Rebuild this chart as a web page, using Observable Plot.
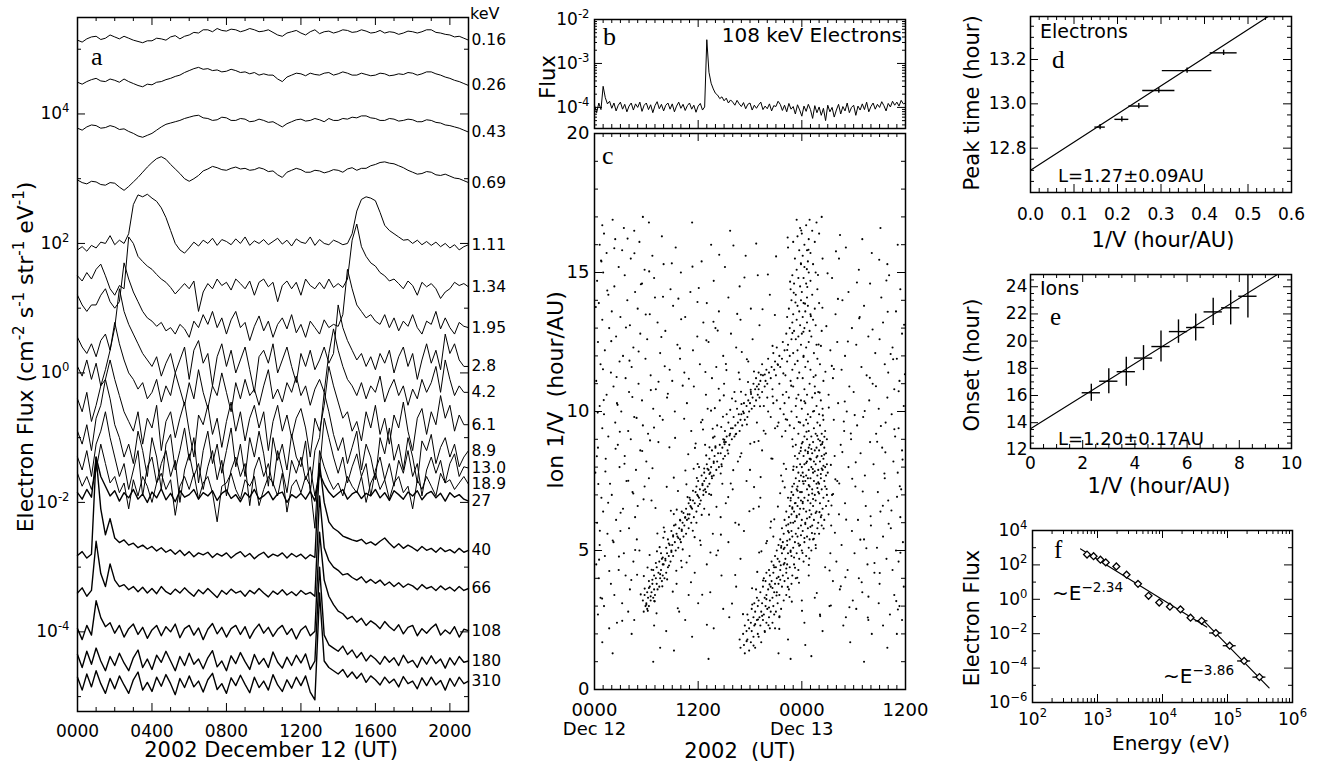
<!DOCTYPE html>
<html><head><meta charset="utf-8">
<script src="https://cdn.jsdelivr.net/npm/d3@7"></script>
<script src="https://cdn.jsdelivr.net/npm/@observablehq/plot@0.6"></script>
<style>
html,body{margin:0;padding:0;background:#fff;}
#fig{position:relative;width:1322px;height:769px;overflow:hidden;background:#fff;}
#fig > svg{position:absolute;max-width:none;}
</style></head><body><div id="fig"></div>
<script>
// ================= DATA =================
const hoursQuarter = [0,0.25,0.5,0.75,1,1.25,1.5,1.75,2,2.25,2.5,2.75,3,3.25,3.5,3.75,4,4.25,4.5,4.75,5,5.25,5.5,5.75,6,6.25,6.5,6.75,7,7.25,7.5,7.75,8,8.25,8.5,8.75,9,9.25,9.5,9.75,10,10.25,10.5,10.75,11,11.25,11.5,11.75,12,12.25,12.5,12.75,13,13.25,13.5,13.75,14,14.25,14.5,14.75,15,15.25,15.5,15.75,16,16.25,16.5,16.75,17,17.25,17.5,17.75,18,18.25,18.5,18.75,19,19.25,19.5,19.75,20,20.25,20.5,20.75,21,21.25,21.5,21.75,22,22.25,22.5,22.75,23,23.25,23.5,23.75,24,24.25,24.5,24.75,25,25.25,25.5,25.75,26,26.25,26.5,26.75,27,27.25,27.5,27.75,28,28.25,28.5,28.75,29,29.25,29.5,29.75,30,30.25,30.5,30.75,31,31.25,31.5,31.75,32,32.25,32.5,32.75,33,33.25,33.5,33.75,34,34.25,34.5,34.75,35,35.25,35.5,35.75,36];

const channelLabels = ["0.16","0.26","0.43","0.69","1.11","1.34","1.95","2.8","4.2","6.1","8.9","13.0","18.9","27","40","66","108","180","310"];

// log10 electron flux (cm^-2 s^-1 str^-1 eV^-1), quarter-hour samples from 0000 UT
const logFlux016 = [5.14,5.11,5.16,5.19,5.2,5.15,5.17,5.22,5.19,5.16, 5.2,5.17,5.14,5.12,5.1,5.13,5.13,5.17,5.16,5.14, 5.19,5.21,5.16,5.2,5.22,5.26,5.25,5.3,5.3,5.27, 5.32,5.29,5.28,5.31,5.3,5.27,5.29,5.32,5.3,5.27, 5.28,5.3,5.26,5.22,5.2,5.25,5.27,5.29,5.25,5.22, 5.27,5.3,5.24,5.27,5.28,5.25,5.27,5.3,5.29,5.26, 5.27,5.3,5.28,5.25,5.26,5.29,5.25,5.27,5.26,5.23, 5.25,5.28,5.27,5.25,5.27,5.3,5.3,5.26,5.25,5.23, 5.22,5.19,5.2,5.17,5.14];
const logFlux026 = [4.49,4.46,4.5,4.53,4.55,4.51,4.5,4.54,4.52,4.49, 4.54,4.5,4.47,4.44,4.42,4.46,4.45,4.49,4.5,4.53, 4.55,4.58,4.6,4.64,4.67,4.7,4.72,4.69,4.7,4.67, 4.68,4.65,4.66,4.69,4.67,4.64,4.65,4.62,4.64,4.6, 4.62,4.6,4.6,4.54,4.5,4.57,4.6,4.63,4.62,4.59, 4.63,4.61,4.6,4.63,4.64,4.6,4.62,4.65,4.63,4.6, 4.6,4.63,4.61,4.59,4.6,4.63,4.62,4.59,4.6,4.62, 4.61,4.64,4.63,4.6,4.62,4.65,4.65,4.62,4.6,4.57, 4.55,4.52,4.5,4.47,4.44];
const logFlux043 = [3.78,3.75,3.8,3.83,3.82,3.78,3.79,3.82,3.8,3.76, 3.77,3.73,3.7,3.66,3.64,3.67,3.7,3.75,3.8,3.84, 3.86,3.88,3.9,3.93,3.95,3.97,3.98,3.94,3.93,3.9, 3.91,3.95,3.94,3.9,3.9,3.93,3.92,3.88,3.89,3.92, 3.9,3.87,3.88,3.84,3.8,3.85,3.88,3.91,3.92,3.89, 3.9,3.93,3.91,3.88,3.93,3.9,3.9,3.93,3.92,3.95, 3.94,3.97,3.97,3.94,3.93,3.9,3.9,3.93,3.92,3.89, 3.9,3.92,3.91,3.88,3.88,3.91,3.9,3.87,3.86,3.83, 3.82,3.8,3.78,3.75,3.72];
const logFlux069 = [2.98,2.94,2.92,2.96,2.95,2.91,2.9,2.94,2.93,2.87, 2.82,2.88,2.95,3.02,3.1,3.18,3.25,3.31,3.34,3.3, 3.22,3.15,3.08,3.0,2.96,3.0,3.05,3.12,3.15,3.19, 3.17,3.14,3.13,3.16,3.18,3.15,3.16,3.13,3.14,3.17, 3.15,3.11,3.12,3.06,3.02,3.1,3.13,3.16,3.14,3.1, 3.1,3.13,3.12,3.09,3.11,3.14,3.13,3.1,3.15,3.17, 3.13,3.16,3.16,3.2,3.22,3.25,3.26,3.24,3.23,3.2, 3.17,3.13,3.1,3.07,3.08,3.11,3.1,3.06,3.05,3.07, 3.04,3.01,3.0,2.97,2.94];
const logFlux111 = [1.9,1.95,1.88,1.97, 1.93,2.02,2.0,2.12, 1.98,2.05,2.0,2.15, 2.6,2.75,2.72,2.76, 2.7,2.65,2.55,2.4, 2.2,2.0,1.9,1.85, 1.93,2.02,1.96,2.05, 2.0,2.08,1.97,2.06, 2.03,1.98,2.07,2.0, 2.1,1.97,2.04,2.0, 2.06,1.98,2.03,2.08, 1.99,2.05,1.96,2.07, 2.02,2.0,2.1,1.97, 2.06,2.0,1.98,2.05, 2.02,1.98,2.0,2.15, 2.5,2.68,2.72,2.7, 2.66,2.48,2.28,2.2, 2.15,2.1,2.05,2.06, 2.0,2.05,1.98,2.03, 1.97,2.02,1.95,2.0, 1.93,1.98,1.9,1.95, 1.98];
const logFlux134 = [1.5,1.42,1.55,1.45, 1.6,1.68,1.5,1.3, 1.2,1.35,1.3,2.1, 2.0,1.8,1.72,1.65, 1.6,1.52,1.45,1.4, 1.32,1.22,1.3,1.38, 1.3,1.42,0.95,1.25, 1.38,1.3,1.45,1.35, 1.4,1.28,1.45,1.38, 1.3,1.42,1.2,1.4, 1.45,1.33,1.4,1.1, 1.35,1.42,1.3,1.4, 1.2,1.45,1.35,1.3, 1.4,1.3,1.45,1.32, 1.38,1.32,1.45,2.05, 2.3,1.95,1.8,1.7, 1.65,1.55,1.5,1.42, 1.45,1.38,1.3,1.42, 1.35,1.2,1.4,1.33, 1.38,1.3,1.15,1.25, 1.3,1.4,1.35,1.38, 1.33];
const logFlux195 = [1.2,1.05,0.95,1.05, 1.05,1.2,1.3,1.1, 1.0,1.1,1.7,1.45, 1.25,1.1,0.95,0.85, 0.8,0.72,0.78,0.65, 0.7,0.6,0.75,0.68, 0.55,0.8,0.7,0.9, 0.75,0.95,0.7,0.85, 0.6,0.82,0.95,0.7, 0.78,0.5,0.72,0.88, 0.65,0.8,0.55,0.75, 0.85,0.68,0.9,0.62, 0.75,0.55,0.8,0.7, 0.6,0.82,0.7,0.75, 0.72,0.9,1.6,1.3, 1.05,0.95,0.85,0.9, 0.8,0.75,0.9,0.7, 0.85,0.65,0.8,0.72, 0.9,0.7,0.6,0.8, 0.75,0.95,0.68,0.85, 0.7,0.6,0.78,0.72, 0.7];
const logFlux28 = [0.55,0.4,0.3,0.45, 0.25,0.5,0.6,0.35, 0.7,1.3,0.95,0.75, 0.6,0.45,0.3,0.2, 0.1,0.25,-0.05,0.15, 0.3,0.0,0.2,0.4, -0.1,0.35,0.5,0.15, 0.3,-0.2,0.25,0.45, 0.1,0.35,0.0,0.2, 0.4,0.05,-0.3,0.25, 0.35,0.15,0.45,0.0, 0.2,0.4,0.1,-0.15, 0.3,0.1,0.35,0.05, 0.2,0.4,0.15,0.3, 1.05,0.7,0.5,0.35, 0.2,0.3,0.1,0.25, 0.05,0.3,0.15,0.35, 0.0,0.25,0.4,0.1, 0.3,-0.1,0.2,0.45, 0.15,0.35,0.05,0.6, 0.3,0.45,0.2,0.1, 0.1];
const logFlux42 = [0.1,-0.05,0.2,-0.1, 0.15,-0.2,0.05,0.35, 0.78,0.45,0.2,0.0, -0.1,-0.25,-0.15,-0.4, -0.3,-0.1,-0.45,-0.2, -0.35,0.0,-0.25,-0.5, -0.15,-0.4,0.05,-0.3, -0.55,-0.2,-0.35,0.0, -0.3,-0.6,-0.15,-0.4, -0.1,-0.35,-0.25,-0.5, -0.2,0.05,-0.4,-0.25, -0.45,-0.15,-0.3,-0.05, -0.35,-0.2,-0.5,-0.25, -0.1,-0.3,0.3,0.68, 0.35,0.1,-0.1,-0.2, -0.35,-0.15,-0.4,-0.2, -0.3,-0.05,-0.45,-0.25, -0.1,-0.35,-0.2,-0.5, -0.25,-0.4,-0.1,-0.3, -0.15,0.1,-0.3,0.2, -0.1,-0.35,-0.2,-0.3, -0.3];
const logFlux61 = [-0.4,-0.6,-0.3,-0.75, -0.5,-0.2,-0.1,0.2, -0.1,-0.35,-0.6,-0.75, -0.9,-0.6,-1.1,-0.7, -0.85,-0.5,-1.2,-0.75, -0.6,-1.0,-0.7,-0.45, -0.9,-1.3,-0.65,-0.8, -0.5,-0.95,-0.7,-1.15, -0.75,-0.45,-0.9,-0.6, -1.05,-0.7,-0.5,-0.85, -0.6,-1.2,-0.75,-0.5, -0.9,-0.65,-1.0,-0.7, -0.55,-0.85,-1.3,-0.7, -0.9,-0.5,0.1,-0.2, -0.45,-0.7,-0.6,-0.9, -0.75,-1.05,-0.6,-0.85, -0.5,-0.95,-0.7,-1.1, -0.65,-0.85,-0.45,-0.9, -1.2,-0.7,-0.55,-0.95, -0.6,-0.8,-0.35,-0.7, -0.5,-0.9,-0.65,-0.8, -0.8];
const logFlux89 = [-0.9,-1.1,-0.8,-1.2, -0.7,-0.5,-0.1,-0.4, -0.8,-1.0,-1.3,-1.1, -1.4,-0.9,-1.2,-1.6, -1.0,-1.3,-1.8,-1.1, -0.95,-1.5,-1.2,-0.85, -1.35,-1.0,-1.7,-1.2, -0.9,-1.4,-1.1,-1.55, -1.2,-0.85,-1.45,-1.1, -1.6,-1.0,-1.3,-0.9, -1.25,-1.75,-1.0,-1.35, -1.1,-1.5,-0.95,-1.3, -1.45,-1.05,-1.85,-1.2, -1.0,-0.3,-0.6,-0.95, -1.2,-1.0,-1.4,-1.15, -0.9,-1.5,-1.1,-1.3, -1.65,-1.0,-1.25,-0.85, -1.35,-1.1,-1.5,-1.0, -1.3,-1.7,-1.05,-1.2, -0.95,-1.4,-1.15,-1.0, -1.3,-1.1,-1.45,-1.3, -1.2];
const logFlux130 = [-1.3,-1.5,-1.2,-1.6, -1.1,-0.9,-0.6,-1.0, -1.3,-1.6,-1.4,-1.8, -1.5,-1.2,-1.9,-1.45, -1.3,-1.7,-1.4,-1.2, -1.6,-1.35,-2.0,-1.5, -1.25,-1.6,-1.4,-1.8, -1.45,-1.2,-1.65,-1.35, -1.9,-1.5,-1.3,-1.6, -1.4,-2.05,-1.5,-1.3, -1.6,-1.4,-1.75,-1.2, -1.5,-1.85,-1.35,-1.55, -1.3,-1.65,-1.45,-1.9, -1.5,-0.7,-1.0,-1.3, -1.55,-1.3,-1.7,-1.45, -1.25,-1.6,-1.4,-1.9, -1.5,-1.3,-1.65,-1.4, -1.75,-1.35,-1.55,-1.2, -1.6,-1.4,-1.9,-1.5, -1.3,-1.55,-1.35,-1.7, -1.4,-1.25,-1.6,-1.45, -1.47];
const logFlux189 = [-1.55,-1.75,-1.6,-1.8, -1.5,-1.1,-1.4,-1.7, -1.6,-1.85,-1.7,-2.1, -1.65,-1.9,-1.6,-1.75, -2.0,-1.7,-1.55,-1.8, -1.65,-2.2,-1.75,-1.6, -1.8,-1.55,-1.95,-1.7, -1.6,-1.85,-2.3,-1.75, -1.7,-1.55,-1.8,-1.95, -1.65,-1.75,-1.6,-2.05, -1.8,-1.6,-1.7,-1.9, -1.55,-2.15,-1.75,-1.65, -1.85,-1.6,-1.75,-2.4, -1.2,-1.45,-1.65,-1.8, -1.7,-1.9,-1.6,-1.75, -1.85,-1.6,-2.0,-1.7, -1.55,-1.8,-1.65,-1.95, -1.7,-1.6,-1.85,-1.75, -2.1,-1.65,-1.8,-1.6, -1.75,-1.9,-1.55,-1.7, -1.65,-1.8,-1.7,-1.6, -1.72];
const logFlux27 = [-1.85,-1.95,-1.8,-1.92, -1.3,-1.6,-1.75,-1.9, -1.82,-1.98,-1.85,-1.93, -1.8,-1.95,-1.87,-2.0, -1.84,-1.93,-1.79,-1.96, -1.86,-1.99,-1.82,-1.92, -1.88,-1.8,-1.95,-1.85, -1.9,-1.82,-1.97,-1.86, -1.81,-1.94,-1.88,-1.99, -1.85,-1.92,-1.8,-1.95, -1.9,-1.83,-1.96,-1.87, -1.84,-2.0,-1.88,-1.93, -1.86,-1.95,-1.83,-1.98, -1.55,-1.72,-1.84,-1.92, -1.86,-1.8,-1.95,-1.87, -1.83,-1.94,-1.86,-1.9, -1.8,-1.93,-1.85,-1.97, -1.82,-1.88,-1.95,-1.84, -1.9,-1.82,-1.96,-1.87, -1.83,-1.93,-1.86,-1.98, -1.85,-1.92,-1.88,-1.95, -1.98];
const logFlux40 = [-2.82,-2.76,-2.86,-2.8, -1.3,-2.1,-2.5,-2.25, -2.55,-2.62,-2.58,-2.66, -2.63,-2.7,-2.66,-2.72, -2.68,-2.75,-2.7,-2.77, -2.73,-2.8,-2.74,-2.82, -2.76,-2.84,-2.78,-2.81, -2.77,-2.85,-2.79,-2.83, -2.78,-2.86,-2.8,-2.76, -2.84,-2.79,-2.87,-2.81, -2.77,-2.85,-2.8,-2.83, -2.78,-2.86,-2.79,-2.84, -2.8,-2.87,-2.81,-2.85, -1.4,-2.0,-2.3,-2.4, -2.45,-2.52,-2.55,-2.58, -2.6,-2.57,-2.64,-2.61, -2.66,-2.6,-2.55,-2.63, -2.7,-2.64,-2.71,-2.66, -2.7,-2.75,-2.68,-2.74, -2.71,-2.77,-2.7,-2.76, -2.73,-2.78,-2.71,-2.77, -2.74];
const logFlux66 = [-3.4,-3.32,-3.45,-3.36, -2.6,-3.1,-3.3,-2.95, -3.2,-3.3,-3.27,-3.35, -3.3,-3.38,-3.31,-3.4, -3.33,-3.41,-3.3,-3.38, -3.42,-3.34,-3.4,-3.32, -3.39,-3.45,-3.35,-3.41, -3.33,-3.4,-3.47,-3.36, -3.42,-3.34,-3.4,-3.37, -3.45,-3.36,-3.41,-3.33, -3.4,-3.46,-3.37,-3.42, -3.35,-3.43,-3.38,-3.44, -3.36,-3.42,-3.39,-3.45, -1.9,-2.7,-2.9,-3.0, -3.05,-3.12,-3.1,-3.16, -3.2,-3.15,-3.24,-3.19, -3.25,-3.2,-3.28,-3.23, -3.3,-3.24,-3.31,-3.26, -3.29,-3.35,-3.27,-3.33, -3.3,-3.36,-3.29,-3.35, -3.31,-3.37,-3.3,-3.36, -3.33];
// 108 keV: 0000 Dec 12 to 1200 Dec 13 (panels a and b)
const logFlux108 = [-3.95,-4.12,-3.9,-4.05, -3.52,-3.78,-3.92,-3.86, -4.02,-3.9,-4.08,-3.95, -3.88,-4.04,-3.93,-4.1, -3.97,-3.9,-4.06,-3.92, -4.0,-3.88,-4.09,-3.95, -3.9,-4.05,-3.94,-4.12, -3.96,-3.87,-4.03,-3.93, -4.08,-3.95,-3.9,-4.04, -3.92,-4.1,-3.97,-3.88, -4.02,-3.93,-4.07,-3.96, -3.9,-4.04,-3.95,-4.11, -3.97,-3.91,-4.06,-3.99, -2.46,-3.2,-3.45,-3.58, -3.68,-3.72,-3.8,-3.76, -3.85,-3.79,-3.9,-3.83, -3.88,-3.95,-3.84,-3.92, -3.98,-3.89,-4.03,-3.93, -3.9,-4.06,-3.95,-4.02, -3.94,-3.88,-4.05,-3.97, -4.03,-3.92,-4.08,-3.96, -3.98,-3.86,-3.93,-4.07, -3.95,-4.1,-3.91,-4.04, -3.98,-4.15,-3.94,-4.06, -4.2,-3.97,-4.09,-3.93, -4.05,-4.25,-3.96,-4.12, -3.99,-4.18,-4.02,-4.3, -3.95,-4.1,-4.0,-4.22, -4.06,-3.93,-4.15,-3.98, -4.08,-3.9,-4.12,-4.0, -3.95,-4.18,-3.97,-4.06, -3.92,-4.05,-3.88,-4.1, -3.98,-3.9,-4.04,-3.93, -4.0,-3.87,-3.96,-4.08, -3.91,-3.99,-3.86,-3.95, -3.88,-3.97,-3.84,-3.92, -3.9];
const logFlux180 = [-4.35,-4.55,-4.3,-4.5, -4.25,-4.45,-4.6,-4.38, -4.52,-4.33,-4.48,-4.6, -4.4,-4.28,-4.55,-4.42, -4.58,-4.36,-4.47,-4.3, -4.45,-4.6,-4.38,-4.52, -4.33,-4.5,-4.42,-4.57, -4.4,-4.29,-4.54,-4.45, -4.6,-4.37,-4.49,-4.32, -4.46,-4.58,-4.35,-4.5, -4.41,-4.55,-4.31,-4.47, -4.56,-4.39,-4.52,-4.36, -4.48,-4.34,-4.58,-4.45, -3.0,-4.05,-4.2,-4.25, -4.3,-4.22,-4.35,-4.28, -4.4,-4.32,-4.45,-4.36, -4.42,-4.5,-4.38,-4.47, -4.4,-4.52,-4.36,-4.48, -4.44,-4.55,-4.39,-4.5, -4.37,-4.49,-4.42,-4.56, -4.4,-4.51,-4.38,-4.47, -4.45];
const logFlux310 = [-4.7,-4.9,-4.65,-4.85, -4.6,-4.8,-4.95,-4.72, -4.88,-4.68,-4.82,-4.95, -4.74,-4.62,-4.9,-4.78, -4.92,-4.7,-4.84,-4.66, -4.8,-4.97,-4.72,-4.86, -4.68,-4.85,-4.76,-4.93, -4.74,-4.64,-4.89,-4.8, -4.95,-4.71,-4.83,-4.67, -4.81,-4.94,-4.7,-4.86, -4.76,-4.9,-4.66,-4.82, -4.92,-4.74,-4.87,-4.7, -4.83,-4.68,-4.93,-5.05, -3.4,-4.45,-4.55,-4.6, -4.65,-4.58,-4.7,-4.62, -4.72,-4.64,-4.78,-4.68, -4.74,-4.82,-4.7,-4.79, -4.73,-4.85,-4.69,-4.8, -4.76,-4.88,-4.71,-4.83, -4.7,-4.82,-4.75,-4.9, -4.72,-4.84,-4.7,-4.8, -4.76];

// Panel c: ion 1/V (hour/AU) rows, each listing the times (hours since 0000 Dec 12) of ions at that 1/V
const ionRows = [
[1.0,[6.8,31.2]],[1.1,[13.2,22.7]],[1.2,[25.1]],[1.3,[2.1,17.4,21.3]],[1.4,[9.2,17.9]],
[1.5,[7.6,16.9,18.6,33.9]],[1.6,[17.3,24.4]],[1.7,[0.9,18.1,19.3,29.6]],[1.8,[16.8,17.7,22.4]],[1.9,[11.3,18.4,19.0]],
[2.0,[4.3,17.2,18.9,32.1,35.0]],[2.1,[8.3,17.6,18.2,19.7,26.4]],[2.2,[1.7,17.9,20.3,20.9,13.8]],[2.3,[6.9,18.5,17.4,19.2,28.8,33.4]],[2.4,[24.3,18.1,19.9,20.6,2.6]],
[2.5,[10.5,17.8,18.8,19.5,31.7,35.6,4.6]],[2.6,[15.6,19.1,20.2,18.4,21.4,29.1]],[2.7,[0.4,17.7,19.6,20.8,26.1,34.2]],[2.8,[3.9,5.7,18.6,19.3,20.4,21.0,9.8]],[2.9,[6.1,14.9,18.2,20.0,21.6,30.3]],
[3.0,[5.9,6.3,18.9,19.8,20.7,1.1,27.2,35.3]],[3.1,[3.2,6.0,19.4,18.5,21.2,12.0,32.9]],[3.2,[5.6,6.5,19.0,20.3,21.9,24.0,29.9]],[3.3,[0.7,6.2,6.8,18.8,20.6,19.7,25.5]],[3.4,[2.3,5.8,7.0,19.9,21.4,22.2,10.9,34.7]],
[3.5,[6.6,6.1,19.2,20.8,21.1,13.4,31.0]],[3.6,[4.1,6.9,7.3,18.7,20.1,22.5,28.4]],[3.7,[6.4,7.5,19.5,21.7,20.4,16.4,35.8]],[3.8,[1.9,6.7,7.2,20.9,21.3,22.8,9.5,33.0]],[3.9,[7.8,6.3,19.8,22.0,20.5,27.6]],
[4.0,[0.5,7.1,7.6,8.1,19.6,21.1,22.4,23.3,30.6]],[4.1,[3.6,6.9,7.9,20.3,21.8,22.9,14.7,24.8]],[4.2,[7.4,8.3,20.7,19.9,22.2,11.6,32.4]],[4.3,[2.8,6.8,7.7,21.5,20.2,23.6,29.3,34.5]],[4.4,[7.2,8.5,21.0,22.6,20.8,10.1,26.7]],
[4.5,[0.2,7.9,8.0,21.9,23.1,22.3,13.0,31.6]],[4.6,[4.5,7.5,8.8,20.5,21.4,24.2,28.0,35.2]],[4.7,[8.2,7.8,22.1,23.7,21.2,16.9,33.8]],[4.8,[1.2,8.6,9.1,20.9,22.8,24.5,11.0]],[4.9,[3.4,7.7,8.4,21.7,23.4,22.4,27.3,30.1]],
[5.0,[5.2,8.9,9.4,21.1,22.7,24.0,25.1,14.3,34.9]],[5.1,[8.3,9.7,21.6,23.0,24.8,22.0,32.7]],[5.2,[0.6,8.7,9.0,22.3,23.8,21.3,25.6,12.3,28.6]],[5.3,[2.2,9.3,10.0,21.8,24.3,23.2,15.5,35.7]],[5.4,[4.9,8.5,9.9,22.6,24.9,21.5,25.3,31.2]],
[5.5,[9.1,10.3,22.9,23.5,24.6,20.7,9.6,33.4]],[5.6,[1.5,9.5,10.6,21.9,25.5,23.3,26.0,13.7]],[5.7,[3.0,8.9,10.1,22.4,24.1,22.8,17.3,29.8]],[5.8,[9.8,10.9,23.6,24.7,21.7,25.8,4.0,34.3]],[5.9,[9.2,10.4,22.2,23.9,25.2,26.3,27.4,32.0]],
[6.0,[0.3,10.2,11.2,22.7,24.4,23.0,25.9,11.8,16.3]],[6.1,[2.5,9.9,10.7,22.0,24.0,25.4,26.6,30.5]],[6.2,[4.7,10.5,11.5,23.4,24.9,22.5,26.2,14.6,35.4]],[6.3,[10.8,11.0,22.8,25.1,23.7,27.1,28.3]],[6.4,[1.0,10.1,11.8,23.1,24.5,25.7,22.2,33.1]],
[6.5,[3.3,10.6,11.3,22.9,23.8,26.4,24.2,12.7,18.4]],[6.6,[5.0,11.1,12.0,23.5,25.3,22.6,26.8,31.4]],[6.7,[10.9,11.6,24.1,25.0,23.2,26.1,15.2,29.0]],[6.8,[6.6,11.4,12.3,22.7,24.7,25.6,23.9,34.0]],[6.9,[0.8,11.0,12.1,23.6,24.3,26.5,22.4,19.2]],
[7.0,[2.0,11.9,12.6,23.0,25.5,24.8,26.9,13.5,27.5]],[7.1,[4.4,11.7,12.9,23.8,24.0,25.9,22.8,32.8]],[7.2,[12.2,12.8,23.4,25.2,24.6,26.3,16.0,35.5]],[7.3,[5.8,11.8,13.1,22.9,24.9,26.7,23.5,30.2]],[7.4,[1.8,12.5,13.3,24.2,25.7,23.1,26.0,14.8]],
[7.5,[3.7,12.0,12.7,23.7,24.4,25.4,26.6,17.6,28.1]],[7.6,[6.3,12.9,13.6,23.3,25.0,26.2,24.7,33.6]],[7.7,[12.4,13.8,24.5,25.8,23.9,26.8,21.6,31.3]],[7.8,[0.1,12.7,13.4,23.6,25.3,24.1,27.0,35.1]],[7.9,[4.8,13.2,14.1,24.8,25.9,23.0,26.4,18.0]],
[8.0,[2.9,13.5,14.4,24.0,25.1,26.7,23.4,12.1,29.4]],[8.1,[13.0,14.7,24.3,25.6,23.8,26.9,32.3]],[8.2,[6.0,13.8,14.2,24.6,25.4,26.1,16.6,34.6]],[8.3,[1.3,13.3,14.9,23.5,25.0,26.5,24.9,20.6]],[8.4,[3.5,13.9,15.1,24.2,25.8,26.3,23.2,27.8]],
[8.5,[14.3,14.6,24.7,25.2,26.8,23.7,17.0,30.8]],[8.6,[5.3,13.6,15.4,24.4,26.0,25.5,19.4,35.6]],[8.7,[0.4,14.0,14.8,23.9,25.7,26.6,24.8,33.3]],[8.8,[2.7,14.5,15.6,24.9,26.2,23.3,12.8,28.5]],[8.9,[7.4,15.0,15.2,25.3,24.1,26.4,18.5,31.9]],
[9.0,[4.2,14.9,15.9,24.6,25.9,26.9,22.9,29.7]],[9.1,[1.6,15.3,16.2,25.1,24.3,21.7,13.9,34.8]],[9.2,[6.2,15.7,16.4,25.6,26.3,23.6,19.8,32.6]],[9.3,[3.9,15.1,16.8,24.8,26.7,22.1,11.2,28.9]],[9.4,[0.9,15.8,16.0,25.4,23.1,20.9,35.2]],
[9.5,[5.6,16.3,17.1,24.2,26.1,22.6,14.2,30.4]],[9.6,[2.4,15.5,16.6,25.8,23.8,21.3,18.8,33.7]],[9.7,[7.9,16.9,17.4,24.5,26.5,22.3,12.5,27.7]],[9.8,[4.6,16.1,17.7,25.0,23.4,20.4,31.1]],[9.9,[1.1,16.7,17.0,26.0,24.7,21.9,15.3,34.4]],
[10.0,[3.1,17.2,17.9,25.3,22.8,20.1,9.3,29.2]],[10.1,[6.8,16.5,18.2,24.0,26.4,21.5,13.1,32.9]],[10.2,[0.6,17.6,18.5,25.7,23.3,19.6,35.8]],[10.3,[2.6,17.3,18.0,24.4,22.0,20.7,10.7,28.2]],[10.4,[5.5,17.8,18.7,26.2,23.9,21.1,14.5,31.8]],
[10.5,[8.4,18.3,19.1,25.2,22.5,20.0,33.9]],[10.6,[1.4,17.5,18.9,24.6,23.6,21.8,12.9,27.1]],[10.7,[4.0,18.1,19.4,25.9,22.2,16.2,30.0]],[10.8,[7.1,18.6,19.0,24.3,20.6,34.7]],[10.9,[2.2,18.8,19.7,25.5,23.0,11.5,29.5]],
[11.0,[5.1,18.4,20.0,24.9,21.4,15.0,32.2]],[11.1,[0.2,19.2,19.8,26.5,22.7,9.0,35.3]],[11.2,[3.6,18.7,20.4,24.1,23.5,13.6,27.6]],[11.3,[6.5,19.5,21.0,25.6,22.1,31.5]],[11.4,[1.9,19.0,20.2,23.7,16.7,10.4,34.0]],
[11.5,[8.7,19.9,20.8,25.0,22.9,28.6]],[11.6,[4.3,20.5,21.5,24.4,14.1,30.9]],[11.7,[0.7,19.4,21.2,23.2,26.1,12.2,33.6]],[11.8,[2.9,20.9,22.3,24.7,17.8]],[11.9,[5.9,20.1,21.7,25.8,9.9,35.0]],
[12.0,[3.3,21.4,22.6,24.2,14.9,29.0]],[12.1,[7.6,20.7,23.0,25.4,32.5]],[12.2,[1.2,22.0,23.5,11.4,27.3]],[12.3,[4.5,21.1,24.5,16.4,34.5]],[12.4,[9.6,22.4,23.9,25.7,30.3]],
[12.5,[0.4,21.8,24.8,13.2,28.1]],[12.6,[6.1,22.8,23.3,18.3,33.0]],[12.7,[2.5,23.6,25.1,11.9,31.7]],[12.8,[5.3,22.2,24.0,15.8,35.6]],[12.9,[8.2,23.1,24.9,26.3]],
[13.0,[1.7,22.6,24.3,14.0,29.8]],[13.1,[4.1,23.8,25.6,19.1]],[13.2,[7.3,22.9,24.6,12.6,33.4]],[13.3,[0.9,23.4,25.3,16.9]],[13.4,[3.0,24.1,22.3,10.5,30.7]],
[13.5,[6.4,23.0,25.0,27.9]],[13.6,[2.0,24.4,23.7,14.4,34.9]],[13.7,[5.0,22.5,25.5,18.1]],[13.8,[9.1,23.5,24.7,31.2]],[13.9,[0.5,24.2,26.0,13.0]],
[14.0,[3.8,22.8,23.9,28.7]],[14.1,[7.0,24.6,15.5,33.2]],[14.2,[1.6,23.3,25.2,20.3]],[14.3,[4.7,24.0,11.1,29.4]],[14.4,[8.8,22.7,25.8,35.4]],
[14.5,[2.3,23.8,16.8]],[14.6,[5.5,24.5,23.1,31.9]],[14.7,[0.3,25.0,13.8]],[14.8,[6.9,23.6,24.2,27.5]],[14.9,[3.5,22.9,18.9,34.1]],
[15.0,[1.0,24.8,25.6,10.0]],[15.1,[5.8,23.4,30.6]],[15.2,[2.8,24.3,15.1]],[15.3,[8.0,23.9,25.3,33.9]],[15.4,[0.8,24.7,12.4]],
[15.5,[4.2,23.2,26.4,28.3]],[15.6,[6.7,24.1,17.5]],[15.7,[1.4,25.0,32.1]],[15.8,[3.2,23.7,24.6]],[15.9,[9.4,22.4,29.1]],
[16.0,[0.6,24.3,13.5,35.1]],[16.1,[5.2,25.5,23.0]],[16.2,[2.4,24.8,31.0]],[16.3,[7.8,23.5]],[16.4,[1.1,24.0,26.0]],
[16.5,[4.6,25.2,15.7]],[16.6,[3.4,23.8,33.1]],[16.7,[0.9,24.5]],[16.8,[6.3,25.7,11.3]],[16.9,[2.1,23.4,24.9]],[17.0,[5.6,26.3]]
];
// further ions [time, 1/V]: scattered background
const ionScatterExtra = [[3.47,8.12],[27.83,5.64],[14.26,12.91],[0.88,3.27],[33.15,9.48],[9.71,14.06],[21.39,2.18],[6.52,10.77],[30.64,13.35],[17.93,6.41],
[1.94,12.53],[24.58,15.12],[11.17,3.86],[35.02,6.93],[8.36,7.29],[19.45,13.68],[4.71,5.02],[28.97,10.36],[15.63,9.14],[2.29,15.87],
[32.41,4.55],[12.84,11.42],[23.06,14.27],[7.18,2.74],[26.35,8.83],[0.37,9.96],[18.72,16.04],[10.49,6.18],[34.28,12.07],[5.93,13.49],
[29.51,2.96],[13.58,7.67],[22.14,9.72],[3.02,6.36],[31.87,11.21],[16.29,4.12],[8.95,15.33],[25.73,3.47],[1.26,7.84],[20.61,12.36],
[35.66,8.27],[11.92,13.94],[27.08,6.78],[6.14,4.39],[14.97,10.58],[33.79,14.71],[4.05,11.83],[19.88,5.26],[9.33,9.05],[28.42,16.35],
[0.62,5.71],[24.19,11.96],[17.36,14.82],[31.05,7.12],[7.74,12.68],[13.01,2.33],[26.84,13.07],[2.67,10.24],[21.78,7.49],[34.93,3.18],
[10.85,8.46],[18.24,3.64],[5.37,14.58],[30.12,9.87],[15.48,6.92],[23.69,5.17],[1.71,4.26],[32.96,15.46],[8.02,5.83],[27.47,11.64],
[12.33,9.61],[20.07,14.93],[4.49,7.05],[35.21,10.73],[16.86,8.37],[29.04,4.04],[6.89,9.42],[22.91,12.82],[0.15,13.76],[14.44,15.64],
[33.38,6.61],[9.06,3.52],[25.27,7.93],[3.83,16.22],[19.16,10.19],[11.59,5.48],[28.18,14.05],[7.41,11.07],[31.64,2.59],[17.05,12.14],
[2.93,9.27],[24.86,4.71],[13.77,13.23],[34.57,11.88],[5.68,6.84],[21.02,15.58],[10.21,10.93],[26.61,9.09],[1.48,14.35],[29.83,7.58],
[15.92,3.09],[8.67,8.71],[32.19,12.95],[20.43,6.04],[4.26,3.94],[27.95,15.76],[12.62,7.16],[35.84,13.12],[6.33,15.04],[23.37,10.47],
[0.98,11.52],[18.99,8.94],[30.77,5.39],[14.11,4.83],[9.89,12.27],[25.94,12.41],[3.21,2.47],[33.56,7.77],[16.52,13.51],[22.57,3.33],
[7.06,6.53],[28.69,8.54],[11.34,15.21],[34.05,5.96],[2.44,8.66],[19.71,11.33],[13.26,6.29],[26.12,2.64],[5.11,12.16],[31.28,10.02],
[17.64,9.53],[8.49,10.64],[24.37,13.88],[0.44,7.39],[29.33,12.52],[15.21,11.71],[21.56,4.47],[4.87,9.77],[35.41,4.92],[10.66,4.57],
[27.21,4.28],[12.07,14.44],[32.72,8.91],[6.71,7.96],[18.47,7.28],[23.93,16.51],[1.07,10.41],[30.38,14.64],[14.73,8.03],[9.52,6.47],
[25.52,10.66],[3.64,13.02],[20.88,13.47],[34.71,9.36],[16.08,15.97],[7.93,14.13],[28.51,3.71],[11.71,8.85],[2.11,5.36],[31.96,6.23],
[19.32,4.97],[13.93,10.12],[26.98,14.97],[5.52,8.58],[22.36,16.26],[0.76,15.43],[29.67,9.21],[17.77,11.06],[8.21,4.64],[33.94,13.59],
[24.02,2.83],[12.95,12.56],[4.62,15.69],[35.93,11.34],[15.77,7.41],[21.24,11.67],[10.03,13.32],[27.62,7.03],[6.97,3.17],[30.93,3.86],
[2.83,4.78],[14.63,5.57],[31.47,5.08],[9.18,7.62],[26.27,6.27],[0.27,8.39],[19.59,9.31],[33.02,4.19],[12.47,3.41],[7.57,9.84],
[28.33,7.41],[16.71,5.93],[4.38,10.52],[35.34,7.31],[22.71,6.89],[10.92,11.18],[1.58,6.72],[30.24,8.17],[13.42,4.93],[24.71,9.57],
[5.81,3.63],[18.08,10.78],[32.58,10.91],[8.13,11.63],[27.36,3.02],[15.06,8.82],[3.91,7.51],[20.26,3.78],[34.37,6.44],[11.48,7.94],
[29.13,6.11],[6.43,8.96],[17.19,2.71],[0.53,4.67],[25.39,5.42],[13.68,9.38],[31.71,3.34],[9.64,2.92],[21.91,8.12],[2.56,11.24],
[28.86,9.64],[16.33,10.37],[7.28,5.61],[33.67,8.53],[12.18,6.67],[23.47,4.02],[4.93,4.13],[19.03,6.58],[35.12,2.88],[10.38,9.74]];
// further ions in the early (first) dispersion band
const ionBandEarlyExtra = [[6.0,3.05],[6.5,3.35],[6.7,3.95],[7.6,4.15],[7.9,4.75],[8.9,4.95],[9.1,5.55],[10.1,5.75],[10.3,6.35],[11.2,6.55],[11.4,7.15],[12.5,7.35],[12.7,7.95],[13.8,8.15],[14.0,8.75],[6.3,3.65],[7.1,4.55],[8.6,5.25],[9.7,5.45],[10.9,6.15],[12.0,6.95],[13.3,7.75],
[5.35,3.42],[6.92,3.18],[7.85,3.71],[5.71,4.08],[8.63,4.46],[6.38,4.84],[9.47,4.27],[7.54,5.12],[10.21,5.04],[8.12,5.67],
[9.93,6.08],[11.38,5.71],[8.84,6.43],[10.77,6.92],[12.41,6.28],[9.66,7.14],[11.85,7.61],[13.27,7.03],[10.52,7.88],[12.93,8.42],
[14.61,7.77],[11.63,8.69],[13.72,9.06],[15.48,8.49],[12.56,9.35],[14.87,9.81],[16.34,9.18],[13.49,10.03],[15.92,10.47],[17.28,9.94],
[14.38,10.82],[16.81,11.16],[18.12,10.63],[15.27,11.49],[17.64,11.88],[19.26,11.32],[6.17,2.83],[7.23,4.97],[8.41,3.96],[9.18,6.31],
[10.03,4.63],[11.09,6.82],[12.22,5.36],[13.08,7.94],[14.12,6.57],[15.03,8.98],[16.06,7.89],[17.01,10.27],[18.03,8.84],[19.02,10.98],
[6.61,4.31],[7.97,5.46],[9.38,5.93],[10.64,7.38],[11.94,8.11],[13.31,8.71],[14.67,9.44],[15.71,10.06],[16.96,10.71],[18.46,11.44]];
// further ions in the late (second) dispersion band
const ionBandLateExtra = [[21.3,4.05],[22.2,4.35],[23.1,4.75],[21.9,5.05],[23.6,5.25],[24.3,5.45],[22.5,5.65],[25.0,5.85],[23.2,6.05],[24.6,6.15],[25.6,6.35],[22.9,6.55],[24.1,6.75],[25.3,6.85],[26.0,7.05],[23.5,7.15],[24.8,7.35],[25.9,7.45],[24.2,7.65],[25.5,7.85],[26.3,7.95],[24.5,8.15],[25.7,8.35],[26.6,8.45],[25.1,8.65],[24.0,8.85],[26.1,8.95],[22.0,4.55],[20.6,3.65],[19.9,3.25],[21.5,3.95],[20.2,2.95],[19.4,2.65],[18.6,2.35],[22.7,4.95],[24.9,6.45],[23.9,5.55],[25.8,7.25],[26.5,8.05],[24.4,5.95],[22.3,5.35],[23.4,6.25],[25.2,7.05],[26.2,7.75],[24.7,8.55],
[17.61,1.74],[18.93,2.52],[20.14,2.31],[18.26,3.06],[21.07,3.38],[19.51,3.92],[22.37,3.69],[20.73,4.47],[18.84,4.23],[23.21,4.38],
[21.62,5.16],[19.97,5.34],[24.08,4.91],[22.43,5.94],[20.81,6.12],[25.17,5.63],[23.28,6.71],[21.49,7.06],[26.04,6.38],[24.12,7.49],
[22.18,7.93],[26.87,7.21],[25.03,8.27],[22.96,8.74],[27.36,8.08],[25.78,9.13],[23.64,9.62],[26.43,9.86],[24.29,10.37],[27.12,10.14],
[22.77,10.93],[25.36,11.24],[23.51,11.82],[26.21,12.36],[24.18,12.87],[22.31,12.21],[25.04,13.43],[23.26,13.92],[24.63,14.48],[25.87,14.91],
[23.89,15.33],[24.77,15.82],[22.64,14.67],[26.38,13.73],[21.18,9.47],[20.47,8.31],[19.23,7.64],[21.86,11.37],[20.62,10.54],[27.71,11.53],
[18.41,1.58],[19.72,2.07],[21.41,2.63],[22.84,3.16],[23.67,3.84],[24.81,4.48],[25.62,5.08],[26.52,5.79],[27.43,6.62],[27.88,7.56],
[19.06,4.93],[20.36,5.82],[21.23,6.58],[22.02,7.27],[23.04,8.02],[23.86,8.58],[24.54,9.27],[25.42,10.02],[26.06,10.68],[26.73,11.43]];

// Panel d: electrons, peak time vs 1/V
const elecInvV = [0.16, 0.21, 0.249, 0.295, 0.36, 0.444];
const elecInvVErr = [0.012, 0.016, 0.023, 0.037, 0.057, 0.031];
const elecPeakTime = [12.895, 12.93, 12.99, 13.06, 13.15, 13.23];
const elecPeakErr = [0.012, 0.012, 0.012, 0.012, 0.012, 0.012];
const elecFit = [[0, 12.70], [0.6, 13.462]];
// Panel e: ions, onset vs 1/V
const ionInvV = [2.33, 3.0, 3.67, 4.33, 5.0, 5.67, 6.33, 7.0, 7.67, 8.33];
const ionInvVErr = [0.35, 0.35, 0.35, 0.35, 0.35, 0.35, 0.35, 0.35, 0.35, 0.35];
const ionOnset = [16.2, 17.05, 17.75, 18.75, 19.6, 20.7, 21.0, 22.15, 22.45, 23.3];
const ionOnsetErr = [0.63, 0.92, 1.07, 0.92, 1.14, 0.86, 1.0, 1.0, 1.26, 1.6];
const ionFit = [[0, 13.55], [10, 25.55]];
// Panel f: spectrum
const specEnergy = [690, 870, 1110, 1340, 1950, 2800, 4200, 6100, 8900, 13000, 18900, 27000, 40000, 66000, 108000, 180000, 310000];
const specFlux = [400, 320, 200, 140, 81, 27, 7.9, 1.6, 0.65, 0.37, 0.26, 0.085, 0.056, 0.011, 0.002, 0.00026, 0.00003];
const specErrLo = [null,null,null,null,null,null,null,null,null,null,null,null, 32000, 53000, 86000, 143000, 246000];
const specErrHi = [null,null,null,null,null,null,null,null,null,null,null,null, 50000, 83000, 136000, 227000, 390000];
const specFitLow = [[550, 850], [47900, 0.0245]];
const specFitHigh = [[41700, 0.063], [436500, 7.1e-6]];

// ================= HELPERS =================
const FONT = "'DejaVu Sans', 'Liberation Sans', sans-serif";
const SERIF = "'Liberation Serif', 'DejaVu Serif', serif";
const SVGNS = "http://www.w3.org/2000/svg";
const fig = document.getElementById("fig");

function richText(el, str, px) {
  while (el.firstChild) el.removeChild(el.firstChild);
  const parts = str.split(/(\{[^}]*\})/).filter(p => p !== "");
  const shift = 0.42 * px;
  let raised = false;
  for (const p of parts) {
    const ts = document.createElementNS(SVGNS, "tspan");
    if (p.startsWith("{")) {
      ts.textContent = p.slice(1, -1);
      ts.setAttribute("font-size", (0.68 * px).toFixed(1));
      if (!raised) ts.setAttribute("dy", (-shift).toFixed(1));
      raised = true;
    } else {
      ts.textContent = p;
      if (raised) ts.setAttribute("dy", shift.toFixed(1));
      raised = false;
    }
    el.appendChild(ts);
  }
}
function supify(svg, px) {
  svg.querySelectorAll("text").forEach(t => {
    if (t.querySelector("tspan")) return;
    const s = t.textContent;
    if (s.includes("{")) richText(t, s, px);
  });
}
function place(svg, left, top, px) {
  svg.style.left = left + "px";
  svg.style.top = top + "px";
  svg.style.background = "transparent";
  supify(svg, px);
  fig.appendChild(svg);
}
function frameTicks(W, H, o) {
  const st = {stroke: "black", strokeWidth: 1};
  const out = [];
  const xs = (vals, len) => { if (vals && vals.length) out.push(
    Plot.ruleX(vals, {x: d => d, insetBottom: H - len, ...st}),
    Plot.ruleX(vals, {x: d => d, insetTop: H - len, ...st})); };
  const ys = (vals, len) => { if (vals && vals.length) out.push(
    Plot.ruleY(vals, {y: d => d, insetRight: W - len, ...st}),
    Plot.ruleY(vals, {y: d => d, insetLeft: W - len, ...st})); };
  xs(o.xMajor, 8); xs(o.xMinor, 4); ys(o.yMajor, 8); ys(o.yMinor, 4);
  if (o.yTiny && o.yTiny.length) { ys(o.yTiny, 3); }
  return out;
}
const pow10Label = (minus) => d => "10{" + String(Math.round(Math.log10(d))).replace("-", minus) + "}";
function logMinors(lo, hi, from, to) {
  const out = [];
  for (let e = from; e <= to; e++) for (let k = 2; k <= 9; k++) { const v = k * 10 ** e; if (v > lo && v < hi) out.push(v); }
  return out;
}

// ================= PANEL a =================
const seriesA = [
  {ch: "0.16", v: logFlux016, heavy: false},
  {ch: "0.26", v: logFlux026, heavy: false},
  {ch: "0.43", v: logFlux043, heavy: false},
  {ch: "0.69", v: logFlux069, heavy: false},
  {ch: "1.11", v: logFlux111, heavy: false},
  {ch: "1.34", v: logFlux134, heavy: false},
  {ch: "1.95", v: logFlux195, heavy: false},
  {ch: "2.8", v: logFlux28, heavy: false},
  {ch: "4.2", v: logFlux42, heavy: false},
  {ch: "6.1", v: logFlux61, heavy: false},
  {ch: "8.9", v: logFlux89, heavy: false},
  {ch: "13.0", v: logFlux130, heavy: false},
  {ch: "18.9", v: logFlux189, heavy: false},
  {ch: "27", v: logFlux27, heavy: true},
  {ch: "40", v: logFlux40, heavy: true},
  {ch: "66", v: logFlux66, heavy: true},
  {ch: "108", v: logFlux108, heavy: true},
  {ch: "180", v: logFlux180, heavy: true},
  {ch: "310", v: logFlux310, heavy: true}
];
const tEndA = 21;
const rowsA = seriesA.flatMap(s => s.v.map((v, i) => ({ch: s.ch, t: hoursQuarter[i], f: 10 ** v, heavy: s.heavy})).filter(r => r.t <= tEndA));
const labelRowsA = seriesA.map(s => { const i = hoursQuarter.indexOf(tEndA); return {ch: s.ch, t: tEndA, f: 10 ** s.v[i]}; });

{
  const W = 391, H = 694;
  const yDom = [10 ** -5.23, 10 ** 5.49];
  const svg = Plot.plot({
    width: 520, height: 769, marginLeft: 77, marginRight: 52, marginTop: 17, marginBottom: 58,
    style: {fontFamily: FONT, fontSize: "17px", background: "transparent", overflow: "visible"},
    x: {domain: [0, 21]},
    y: {type: "log", domain: yDom},
    marks: [
      Plot.line(rowsA.filter(r => !r.heavy), {x: "t", y: "f", z: "ch", stroke: "black", strokeWidth: 1}),
      Plot.line(rowsA.filter(r => r.heavy), {x: "t", y: "f", z: "ch", stroke: "black", strokeWidth: 1.4}),
      Plot.text(labelRowsA, {x: "t", y: "f", text: "ch", textAnchor: "start", dx: 3, fontSize: 15.5, fontFamily: FONT, fill: "black"}),
      ...frameTicks(W, H, {
        xMajor: [4, 8, 12, 16, 20],
        xMinor: d3.range(1, 21).filter(h => h % 4 !== 0),
        yMajor: [1e-4, 1e-2, 1, 1e2, 1e4],
        yMinor: [1e-5, 1e-3, 1e-1, 10, 1e3, 1e5]
      }),
      Plot.frame({stroke: "black", strokeWidth: 1.5}),
      Plot.axisX({ticks: [0, 4, 8, 12, 16, 20], tickFormat: d => String(d * 100).padStart(4, "0"), tickSize: 0, tickPadding: 13, label: null, fontSize: 17, fontFamily: FONT}),
      Plot.axisY({ticks: [1e-4, 1e-2, 1, 1e2, 1e4], tickFormat: pow10Label("-"), tickSize: 0, tickPadding: 8, label: null, fontSize: 17, fontFamily: FONT})
    ]
  });
  place(svg, 0, 0, 17);
}

// ================= PANEL b =================
const rowsB = logFlux108.map((v, i) => ({t: hoursQuarter[i], f: 10 ** v}));
const hourMinorBC = d3.range(1, 36).filter(h => h % 12 !== 0);
{
  const W = 311, H = 109;
  const yDom = [10 ** -4.48, 1e-2];
  const svg = Plot.plot({
    width: 420, height: 135, marginLeft: 74, marginRight: 35, marginTop: 19, marginBottom: 7,
    style: {fontFamily: FONT, fontSize: "17px", background: "transparent", overflow: "visible"},
    x: {domain: [0, 36], axis: null},
    y: {type: "log", domain: yDom},
    marks: [
      Plot.line(rowsB, {x: "t", y: "f", stroke: "black", strokeWidth: 1}),
      ...frameTicks(W, H, {xMajor: [12, 24], xMinor: hourMinorBC, yMajor: [1e-4, 1e-3], yMinor: [], yTiny: logMinors(yDom[0], yDom[1], -5, -3)}),
      Plot.frame({stroke: "black", strokeWidth: 1.5}),
      Plot.axisY({ticks: [1e-4, 1e-3, 1e-2], tickFormat: pow10Label("-"), tickSize: 0, tickPadding: 5, label: null, fontSize: 17, fontFamily: FONT})
    ]
  });
  place(svg, 520, 0, 17);
}

// ================= PANEL c =================
const ionDots = [
  ...ionRows.flatMap(([invV, times]) => times.map(t => ({t, invV}))),
  ...ionScatterExtra.map(([t, invV]) => ({t, invV})),
  ...ionBandEarlyExtra.map(([t, invV]) => ({t, invV})),
  ...ionBandLateExtra.map(([t, invV]) => ({t, invV}))
];
const cTickLabels = new Map([[0, "0000\nDec 12"], [12, "1200"], [24, "0000\nDec 13"], [36, "1200"]]);
{
  const W = 311, H = 556;
  const svg = Plot.plot({
    width: 420, height: 641, marginLeft: 74, marginRight: 35, marginTop: 5, marginBottom: 80,
    style: {fontFamily: FONT, fontSize: "17px", background: "transparent", overflow: "visible"},
    x: {domain: [0, 36]},
    y: {domain: [0, 20]},
    marks: [
      Plot.dot(ionDots, {x: "t", y: "invV", r: 1.05, fill: "black", stroke: "none"}),
      ...frameTicks(W, H, {xMajor: [12, 24], xMinor: hourMinorBC, yMajor: [5, 10, 15], yMinor: d3.range(1, 20).filter(v => v % 5 !== 0)}),
      Plot.frame({stroke: "black", strokeWidth: 1.5}),
      Plot.axisX({ticks: [0, 12, 24, 36], tickFormat: d => cTickLabels.get(d), tickSize: 0, tickPadding: 13, lineHeight: 1.05, label: null, fontSize: 18, fontFamily: FONT}),
      Plot.axisY({ticks: [0, 5, 10, 15, 20], tickSize: 0, tickPadding: 5, label: null, fontSize: 18, fontFamily: FONT})
    ]
  });
  place(svg, 520, 128, 18);
}

// ================= PANEL d =================
const rowsD = elecInvV.map((x, i) => ({x, xe: elecInvVErr[i], y: elecPeakTime[i], ye: elecPeakErr[i]}));
{
  const W = 261, H = 176;
  const svg = Plot.plot({
    width: 392, height: 255, marginLeft: 100, marginRight: 31, marginTop: 16, marginBottom: 63,
    style: {fontFamily: FONT, fontSize: "17px", background: "transparent", overflow: "visible"},
    x: {domain: [0, 0.6]},
    y: {domain: [12.6, 13.394]},
    marks: [
      Plot.line(elecFit, {x: d => d[0], y: d => d[1], stroke: "black", strokeWidth: 1.2, clip: true}),
      Plot.ruleY(rowsD, {y: "y", x1: d => d.x - d.xe, x2: d => d.x + d.xe, stroke: "black", strokeWidth: 1.4}),
      Plot.ruleX(rowsD, {x: "x", y1: d => d.y - d.ye, y2: d => d.y + d.ye, stroke: "black", strokeWidth: 1.4}),
      ...frameTicks(W, H, {
        xMajor: [0.1, 0.2, 0.3, 0.4, 0.5],
        xMinor: d3.range(1, 30).filter(k => k % 5 !== 0).map(k => k * 0.02),
        yMajor: [12.8, 13.0, 13.2],
        yMinor: [12.65, 12.7, 12.75, 12.85, 12.9, 12.95, 13.05, 13.1, 13.15, 13.25, 13.3, 13.35]
      }),
      Plot.frame({stroke: "black", strokeWidth: 1.5}),
      Plot.axisX({ticks: [0, 0.1, 0.2, 0.3, 0.4, 0.5, 0.6], tickFormat: d => d.toFixed(1), tickSize: 0, tickPadding: 15, label: null, fontSize: 17, fontFamily: FONT}),
      Plot.axisY({ticks: [12.8, 13.0, 13.2], tickFormat: d => d.toFixed(1), tickSize: 0, tickPadding: 4, label: null, fontSize: 17, fontFamily: FONT})
    ]
  });
  place(svg, 930, 0, 17);
}

// ================= PANEL e =================
const rowsE = ionInvV.map((x, i) => ({x, xe: ionInvVErr[i], y: ionOnset[i], ye: ionOnsetErr[i]}));
{
  const W = 261, H = 174;
  const svg = Plot.plot({
    width: 392, height: 250, marginLeft: 100, marginRight: 31, marginTop: 14, marginBottom: 62,
    style: {fontFamily: FONT, fontSize: "17px", background: "transparent", overflow: "visible"},
    x: {domain: [0, 10]},
    y: {domain: [12.1, 24.9]},
    marks: [
      Plot.line(ionFit, {x: d => d[0], y: d => d[1], stroke: "black", strokeWidth: 1.2, clip: true}),
      Plot.ruleY(rowsE, {y: "y", x1: d => d.x - d.xe, x2: d => d.x + d.xe, stroke: "black", strokeWidth: 1.4}),
      Plot.ruleX(rowsE, {x: "x", y1: d => d.y - d.ye, y2: d => d.y + d.ye, stroke: "black", strokeWidth: 1.4}),
      ...frameTicks(W, H, {
        xMajor: [2, 4, 6, 8],
        xMinor: d3.range(1, 20).filter(k => k % 4 !== 0).map(k => k * 0.5),
        yMajor: [14, 16, 18, 20, 22, 24],
        yMinor: d3.range(25, 50).filter(k => k % 4 !== 0).map(k => k * 0.5)
      }),
      Plot.frame({stroke: "black", strokeWidth: 1.5}),
      Plot.axisX({ticks: [0, 2, 4, 6, 8, 10], tickSize: 0, tickPadding: 8, label: null, fontSize: 17, fontFamily: FONT}),
      Plot.axisY({ticks: [12, 14, 16, 18, 20, 22, 24], tickSize: 0, tickPadding: 3, label: null, fontSize: 17, fontFamily: FONT})
    ]
  });
  place(svg, 930, 260, 17);
}

// ================= PANEL f =================
const rowsF = specEnergy.map((e, i) => ({e, f: specFlux[i], lo: specErrLo[i], hi: specErrHi[i]}));
{
  const W = 260, H = 172;
  const svg = Plot.plot({
    width: 392, height: 269, marginLeft: 102, marginRight: 30, marginTop: 30, marginBottom: 67,
    style: {fontFamily: FONT, fontSize: "17px", background: "transparent", overflow: "visible"},
    x: {type: "log", domain: [1e2, 1e6]},
    y: {type: "log", domain: [1e-6, 1e4]},
    marks: [
      Plot.line(specFitLow, {x: d => d[0], y: d => d[1], stroke: "black", strokeWidth: 1.2, clip: true}),
      Plot.line(specFitHigh, {x: d => d[0], y: d => d[1], stroke: "black", strokeWidth: 1.2, clip: true}),
      Plot.ruleY(rowsF.filter(r => r.lo !== null), {y: "f", x1: "lo", x2: "hi", stroke: "black", strokeWidth: 1.3}),
      Plot.dot(rowsF, {x: "e", y: "f", symbol: "diamond2", r: 3.1, stroke: "black", fill: "white", strokeWidth: 1.3}),
      ...frameTicks(W, H, {
        xMajor: [1e3, 1e4, 1e5],
        xMinor: logMinors(1e2, 1e6, 2, 5),
        yMajor: [1e-4, 1e-2, 1, 1e2],
        yMinor: [1e-5, 1e-3, 1e-1, 10, 1e3]
      }),
      Plot.frame({stroke: "black", strokeWidth: 1.5}),
      Plot.axisX({ticks: [1e2, 1e3, 1e4, 1e5, 1e6], tickFormat: pow10Label("\u2212"), tickSize: 0, tickPadding: 10, label: null, fontSize: 17, fontFamily: FONT}),
      Plot.axisY({ticks: [1e-6, 1e-4, 1e-2, 1, 1e2, 1e4], tickFormat: pow10Label("\u2212"), tickSize: 0, tickPadding: 5, label: null, fontSize: 17, fontFamily: FONT})
    ]
  });
  place(svg, 930, 500, 17);
}

// ================= TEXT OVERLAY =================
const overlayTexts = [
  {s: "keV", x: 470, y: 19, size: 16},
  {s: "a", x: 91, y: 65, size: 26, serif: true},
  {s: "b", x: 603, y: 45, size: 26, serif: true},
  {s: "c", x: 602, y: 164, size: 26, serif: true},
  {s: "d", x: 1052, y: 68, size: 25, serif: true},
  {s: "e", x: 1050, y: 325, size: 25, serif: true},
  {s: "f", x: 1054, y: 558, size: 25, serif: true},
  {s: "108 keV Electrons", x: 902, y: 42, size: 20, anchor: "end"},
  {s: "Electrons", x: 1040, y: 38, size: 19},
  {s: "L=1.27\u00b10.09AU", x: 1058, y: 182, size: 18},
  {s: "Ions", x: 1040, y: 295, size: 19},
  {s: "L=1.20\u00b10.17AU", x: 1058, y: 445, size: 18},
  {s: "~E{\u22122.34}", x: 1052, y: 600, size: 20},
  {s: "~E{\u22123.86}", x: 1163, y: 683, size: 20},
  {s: "Electron Flux (cm{-2} s{-1} str{-1} eV{-1})", x: 33, y: 357, size: 22, anchor: "middle", rotate: true},
  {s: "2002 December 12 (UT)", x: 271, y: 757, size: 21, anchor: "middle"},
  {s: "Flux", x: 555, y: 77, size: 21, anchor: "middle", rotate: true},
  {s: "Ion 1/V  (hour/AU)", x: 563, y: 390, size: 22, anchor: "middle", rotate: true},
  {s: "2002  (UT)", x: 740, y: 758, size: 21, anchor: "middle"},
  {s: "Peak time (hour)", x: 979, y: 103, size: 21, anchor: "middle", rotate: true},
  {s: "1/V (hour/AU)", x: 1163, y: 247, size: 21, anchor: "middle"},
  {s: "Onset (hour)", x: 979, y: 365, size: 21, anchor: "middle", rotate: true},
  {s: "1/V (hour/AU)", x: 1159, y: 493, size: 21, anchor: "middle"},
  {s: "Electron Flux", x: 979, y: 618, size: 21, anchor: "middle", rotate: true},
  {s: "Energy (eV)", x: 1171, y: 750, size: 20, anchor: "middle"}
];
{
  const ov = d3.create("svg").attr("width", 1322).attr("height", 769).style("left", "0px").style("top", "0px");
  for (const o of overlayTexts) {
    const t = ov.append("text")
      .attr("x", o.x).attr("y", o.y)
      .attr("font-family", o.serif ? SERIF : FONT)
      .attr("font-size", o.size)
      .attr("text-anchor", o.anchor || "start")
      .attr("fill", "black")
      .style("white-space", "pre");
    if (o.rotate) t.attr("transform", `rotate(-90 ${o.x} ${o.y})`);
    richText(t.node(), o.s, o.size);
  }
  fig.appendChild(ov.node());
}
</script></body></html>
